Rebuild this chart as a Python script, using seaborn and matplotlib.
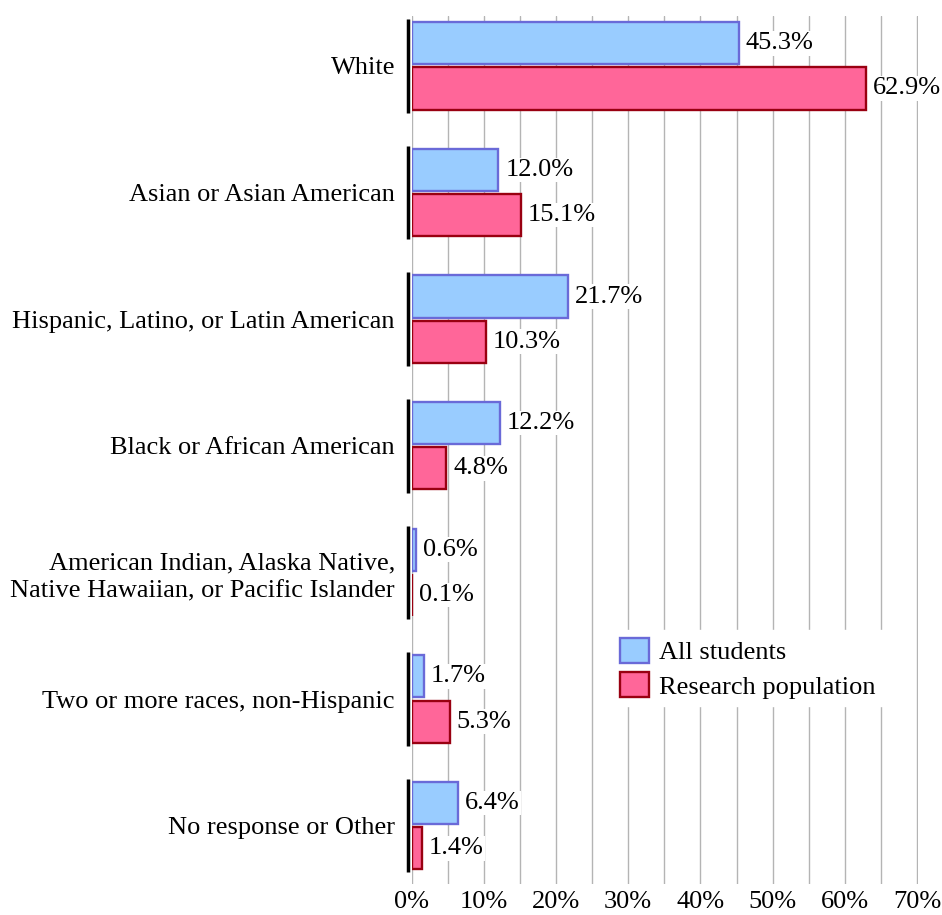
import pandas as pd
import seaborn as sns
import matplotlib.pyplot as plt
from matplotlib.patches import Patch

categories = ["White", "Asian or Asian American", "Hispanic, Latino, or Latin American",
              "Black or African American",
              "American Indian, Alaska Native,\nNative Hawaiian, or Pacific Islander",
              "Two or more races, non-Hispanic", "No response or Other"]
all_students = [45.3, 12.0, 21.7, 12.2, 0.6, 1.7, 6.4]
research_pop = [62.9, 15.1, 10.3, 4.8, 0.1, 5.3, 1.4]
groups = ["All students", "Research population"]
fills = ["#99CCFF", "#FF6699"]
edges = ["#6A6AD8", "#990011"]

df = pd.DataFrame({
    "category": categories * 2,
    "value": all_students + research_pop,
    "group": [groups[0]] * len(categories) + [groups[1]] * len(categories),
})

sns.set_style("white")
plt.rcParams["font.family"] = ["Liberation Serif", "DejaVu Serif"]
plt.rcParams["text.color"] = "black"
plt.rcParams["xtick.color"] = "black"
plt.rcParams["ytick.color"] = "black"

fig, ax = plt.subplots(figsize=(9.42, 9.15), dpi=100)
fig.subplots_adjust(left=0.437, right=0.975, top=0.982, bottom=0.034)

sns.barplot(data=df, y="category", x="value", hue="group", orient="h",
            palette=fills, saturation=1, width=0.714, gap=0.067, ax=ax, legend=False)

for cont, ec in zip(ax.containers, edges):
    for bar in cont:
        bar.set_edgecolor(ec)
        bar.set_linewidth(1.7)
    ax.bar_label(cont, fmt="{:.1f}%", padding=5, fontsize=19,
                 bbox=dict(facecolor="white", edgecolor="none", pad=1))

# black bracket lines left of each group
for i in range(len(categories)):
    ax.vlines(-0.45, i - 0.37, i + 0.37, color="black", lw=2.5, clip_on=False)

ax.set_xlim(0, 70.2)
ax.set_ylim(len(categories) - 1 + 0.46, -0.39)
ax.set_xticks(range(0, 71, 10))
ax.set_xticks(range(5, 70, 10), minor=True)
ax.set_xticklabels([f"{v}%" for v in range(0, 71, 10)], fontsize=19)
ax.tick_params(axis="y", labelsize=19, length=0, pad=12)
ax.tick_params(axis="x", which="both", length=0, pad=5)
for lbl in ax.get_yticklabels():
    lbl.set_linespacing(1.35)
ax.grid(axis="x", which="both", color="#b4b4b4", lw=1)
ax.set_axisbelow(True)
for s in ax.spines.values():
    s.set_visible(False)
ax.set_xlabel("")
ax.set_ylabel("")

handles = [Patch(facecolor=f, edgecolor=e, lw=1.7) for f, e in zip(fills, edges)]
leg = ax.legend(handles, groups, loc="upper left", bbox_to_anchor=(0.370, 0.308),
                fontsize=19, frameon=True, fancybox=False, framealpha=1,
                edgecolor="white", handlelength=1.1, handleheight=1.1,
                handletextpad=0.35, labelspacing=0.28, borderpad=0.3)

fig.savefig("out.png", dpi=100)
